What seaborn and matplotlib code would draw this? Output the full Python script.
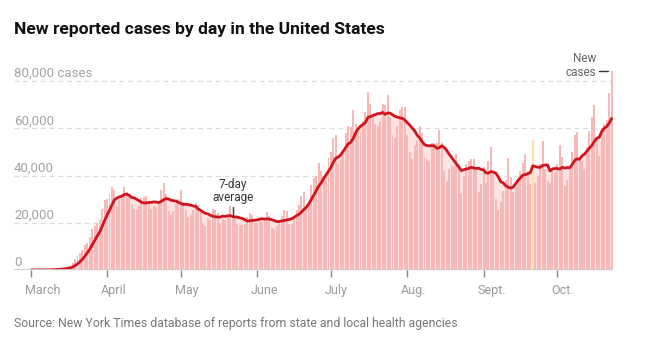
import numpy as np
import pandas as pd
import matplotlib
matplotlib.use("Agg")
import matplotlib.pyplot as plt
import seaborn as sns
from matplotlib.transforms import ScaledTranslation, blended_transform_factory

# ---- data (daily new cases, Mar 1 .. Oct 23, 2020) ----
cases_mar = [10, 15, 20, 30, 60, 80, 100, 120, 170, 280, 400, 500, 650, 750, 950, 1300,
             1800, 2900, 4500, 5800, 7000, 8500, 10500, 11500, 14000, 17500, 18500, 20000,
             21000, 26000, 29500]
cases_apr = [30000, 32000, 35000, 34000, 27000, 29500, 31500, 35000, 33000, 31500, 27500,
             26000, 25500, 27000, 30500, 31000, 31500, 29000, 26000, 27000, 26500, 29000,
             34000, 37000, 32000, 25000, 23500, 25000, 28000, 30000]
cases_may = [34000, 29000, 25500, 22500, 23500, 25500, 28500, 27000, 25000, 20000, 18500,
             22000, 21000, 26000, 25500, 24000, 20000, 21500, 21000, 22500, 27000, 23000,
             22500, 19500, 19000, 19000, 19500, 22500, 24000, 23500, 20000]
cases_jun = [20000, 21500, 20500, 21500, 24500, 23000, 18000, 17500, 18500, 21000, 23000,
             25500, 25000, 19500, 19500, 23000, 25500, 27500, 31500, 33000, 26500, 29000,
             36000, 39000, 40000, 45500, 42000, 40000, 39500, 47500]
cases_jul = [50000, 56000, 57000, 45000, 47000, 50000, 58000, 61000, 60500, 68000, 62000,
             59000, 58000, 63000, 67000, 75500, 70500, 65000, 62000, 61000, 63000, 70500,
             70000, 74000, 65000, 57000, 56000, 61000, 68000, 69000, 69000]
cases_aug = [57000, 50000, 47000, 53000, 55000, 61000, 58000, 48000, 47000, 46000, 54000,
             54000, 54000, 59500, 54000, 42000, 37500, 43000, 44000, 44000, 49000, 45000,
             32500, 40000, 45000, 46000, 47000, 47000, 43800, 33200, 36400]
cases_sep = [43500, 37000, 46300, 52000, 42000, 30000, 25400, 29000, 33500, 38000, 47600,
             39400, 33000, 35000, 39000, 42000, 45500, 49000, 42000, 36500, 55000, 37000,
             40000, 45000, 54500, 43000, 37500, 37000, 43000, 41000]
cases_oct = [45000, 53000, 48000, 35500, 38000, 43000, 50000, 57000, 58500, 46000, 46000,
             43000, 52000, 59000, 65000, 70000, 56000, 48500, 60000, 62000, 63500, 75000,
             84500]
highlight_day = 204          # Sept. 21 bar drawn in yellow

month_days = [0, 31, 61, 92, 122, 153, 184, 214]
month_labels = ["March", "April", "May", "June", "July", "Aug.", "Sept.", "Oct."]
y_ticks = [0, 20000, 40000, 60000, 80000]
y_labels = ["0", "20,000", "40,000", "60,000", "80,000 cases"]

cases = cases_mar + cases_apr + cases_may + cases_jun + cases_jul + cases_aug + cases_sep + cases_oct
days = np.arange(len(cases))
df = pd.DataFrame({"day": days, "cases": cases})
df["avg"] = df["cases"].rolling(7, min_periods=1).mean()
df["kind"] = np.where(df["day"] == highlight_day, "hl", "normal")

# ---- styling ----
PINK = "#f6b9b7"
FILL = "#fce3e2"
YELLOW = "#fde3a6"
RED = "#d0141c"

sns.set_theme(style="white")
plt.rcParams["font.family"] = ["Roboto", "DejaVu Sans"]

W, H = 648, 339
fig = plt.figure(figsize=(W / 100, H / 100), dpi=100)
ax = fig.add_axes([14 / W, 1 - 270 / H, (613 - 14) / W, (270 - 55) / H])

ax.fill_between(df["day"], df["avg"], color=FILL, linewidth=0, zorder=0.5)
sns.barplot(data=df, x="day", y="cases", hue="kind",
            palette={"normal": PINK, "hl": YELLOW},
            native_scale=True, dodge=False, width=0.8, saturation=1,
            legend=False, linewidth=0, ax=ax, zorder=1)
sns.lineplot(data=df, x="day", y="avg", color=RED, linewidth=2, ax=ax, zorder=3)

ax.set_xlim(-6.8, 236.6)
ax.set_ylim(0, 91100)
for s in ax.spines.values():
    s.set_visible(False)
ax.set_xlabel("")
ax.set_ylabel("")
ax.set_yticks([])

for v in y_ticks[1:]:
    ax.axhline(v, color="#dcdcdc", linewidth=0.9, dashes=(4, 3), zorder=0.2)
ax.axhline(0, color="#cccccc", linewidth=1.3, zorder=4)

trans = blended_transform_factory(ax.transAxes, ax.transData)
for v, lab in zip(y_ticks, y_labels):
    t = ax.text(0, v, lab, transform=trans, ha="left", va="baseline",
                fontsize=9.5, color="#a3a3a3", zorder=5)
    t.set_transform(trans + ScaledTranslation(0, 4 / 100, fig.dpi_scale_trans))

ax.set_xticks(month_days)
ax.set_xticklabels(month_labels, ha="left", fontsize=9, color="#9a9a9a")
ax.tick_params(axis="x", length=5, width=1, color="#888888", pad=5, direction="out",
               bottom=True)
for lab in ax.get_xticklabels():
    lab.set_transform(lab.get_transform() + ScaledTranslation(-6 / 100, 0, fig.dpi_scale_trans))

# annotations
ax.text(82, 27800, "7-day\naverage", ha="center", va="bottom", fontsize=8.5,
        color="#333333", linespacing=1.05, zorder=6)
ax.plot([82, 82], [22600, 26800], color="#333333", linewidth=1, zorder=6)
ax.text(229.7, 81000, "New\ncases", ha="right", va="bottom", fontsize=8.5,
        color="#666666", linespacing=1.05, zorder=6)
ax.plot([231.0, 234.7], [84450, 84450], color="#333333", linewidth=1, zorder=6)

fig.text(14 / W, 1 - 34 / H, "New reported cases by day in the United States",
         ha="left", va="baseline", fontsize=12.6, fontweight="bold", color="#121212")
fig.text(14 / W, 1 - 327 / H,
         "Source: New York Times database of reports from state and local health agencies",
         ha="left", va="baseline", fontsize=8.8, color="#777777")

fig.savefig("out.png", dpi=100)
